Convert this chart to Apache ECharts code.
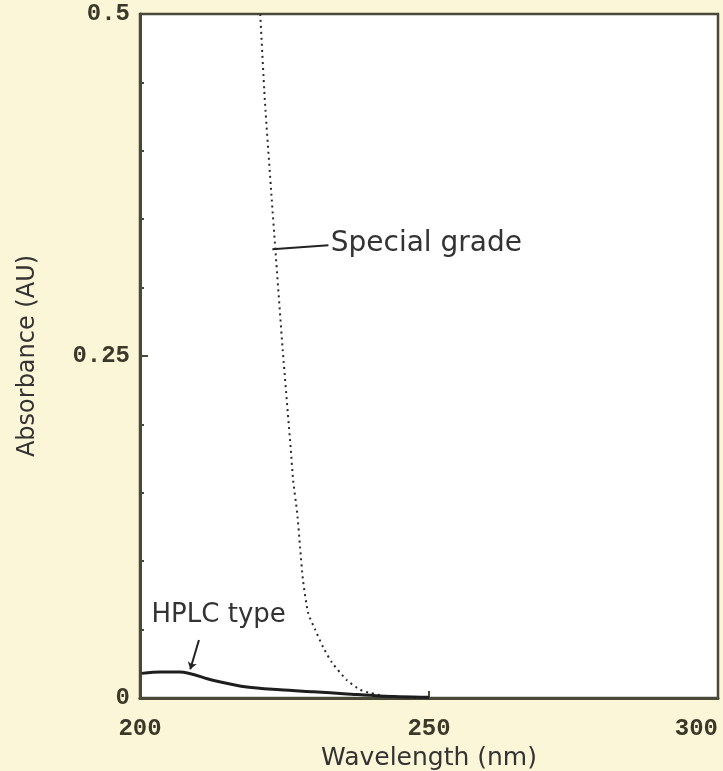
<!DOCTYPE html>
<html>
<head>
<meta charset="utf-8">
<script src="https://cdn.jsdelivr.net/npm/echarts@6/dist/echarts.min.js"></script>
<style>html,body{margin:0;padding:0;background:#fcf6d8;}#c{width:723px;height:771px;}</style>
</head>
<body>
<div id="c"></div>
<script>
// Wavelength (nm) and absorbance (AU)
var specialWavelength = [220.8, 221.6, 222.8, 223.4, 224.7, 226.1, 226.5, 227.2, 227.7, 228.2, 229.1, 230.3, 231.7, 233.2, 235.8, 238.1, 239.8, 242.4, 246.0, 250.0];
var specialAbsorbance = [0.500, 0.437, 0.364, 0.329, 0.254, 0.181, 0.159, 0.135, 0.110, 0.086, 0.062, 0.050, 0.037, 0.026, 0.013, 0.006, 0.0037, 0.0015, 0.0005, 0.0];
var hplcWavelength = [200.3, 203.5, 206.9, 212.6, 218.5, 224.2, 230.0, 235.8, 241.5, 250.0];
var hplcAbsorbance = [0.018, 0.019, 0.019, 0.013, 0.008, 0.006, 0.0045, 0.003, 0.0015, 0.0005];
var xTicks = [200, 250, 300];
var yTicks = [0, 0.25, 0.5];
var seriesNames = ['Special grade', 'HPLC type'];
var xAxisName = 'Wavelength (nm)';
var yAxisName = 'Absorbance (AU)';

function pairs(xs, ys) { return xs.map(function (x, i) { return [x, ys[i]]; }); }

var chart = echarts.init(document.getElementById('c'));
var textColor = '#333';
var axisColor = '#4a4838';
chart.setOption({
  backgroundColor: '#fcf6d8',
  animation: false,
  grid: { left: 140, top: 14, right: 5, bottom: 73, containLabel: false, outerBoundsMode: 'none',
    show: true, backgroundColor: '#ffffff', borderColor: axisColor, borderWidth: 2.5 },
  xAxis: {
    type: 'value', min: xTicks[0], max: xTicks[2], interval: xTicks[1] - xTicks[0],
    name: xAxisName, nameLocation: 'middle', nameGap: 40,
    nameTextStyle: { fontFamily: 'DejaVu Sans', fontSize: 25, color: textColor },
    axisLine: { show: true, lineStyle: { color: axisColor, width: 3 } },
    axisTick: { show: true, inside: true, length: 7, lineStyle: { color: axisColor, width: 2 } },
    axisLabel: { margin: 19, fontFamily: 'Liberation Mono', fontWeight: 'bold', fontSize: 24, color: '#3a3828', alignMaxLabel: 'right' },
    splitLine: { show: false }
  },
  yAxis: {
    type: 'value', min: yTicks[0], max: yTicks[2], interval: yTicks[1] - yTicks[0],
    name: yAxisName, nameLocation: 'middle', nameGap: 100,
    nameTextStyle: { fontFamily: 'DejaVu Sans', fontSize: 24, color: textColor },
    axisLine: { show: true, lineStyle: { color: axisColor, width: 3 } },
    axisTick: { show: true, inside: true, length: 8, lineStyle: { color: axisColor, width: 2 } },
    minorTick: { show: true, splitNumber: 5, length: 4, lineStyle: { color: axisColor, width: 2 } },
    axisLabel: { margin: 10, fontFamily: 'Liberation Mono', fontWeight: 'bold', fontSize: 24, color: '#3a3828',
      formatter: function (v) { return String(v); } },
    splitLine: { show: false }
  },
  series: [
    {
      name: seriesNames[0], type: 'line', data: pairs(specialWavelength, specialAbsorbance),
      showSymbol: false, smooth: 0.2, clip: true,
      lineStyle: { color: '#2a2a2a', width: 2, type: [2, 4] },
      markLine: {
        silent: true, symbol: ['none', 'none'],
        lineStyle: { color: '#222', width: 2, type: 'solid' },
        label: { show: false },
        data: [[{ coord: [222.9, 0.328] }, { coord: [232.6, 0.331] }]]
      },
      markPoint: {
        silent: true, symbol: 'circle', symbolSize: 0,
        data: [{ coord: [233.0, 0.332], value: seriesNames[0] }],
        label: { show: true, position: 'right', distance: 0, formatter: seriesNames[0], fontFamily: 'DejaVu Sans', fontSize: 28, color: textColor }
      }
    },
    {
      name: seriesNames[1], type: 'line', data: pairs(hplcWavelength, hplcAbsorbance),
      showSymbol: false, smooth: 0.3,
      lineStyle: { color: '#1e1e1e', width: 3 },
      markLine: {
        silent: true, symbol: ['none', 'arrow'], symbolSize: 7,
        lineStyle: { color: '#222', width: 2, type: 'solid' },
        label: { show: false },
        data: [[{ coord: [210.2, 0.0424] }, { coord: [208.7, 0.021] }]]
      },
      markPoint: {
        silent: true, symbol: 'circle', symbolSize: 0,
        data: [{ coord: [202.0, 0.0607], value: seriesNames[1] }],
        label: { show: true, position: 'right', distance: 0, formatter: seriesNames[1], fontFamily: 'DejaVu Sans', fontSize: 26, color: textColor }
      }
    }
  ]
});
</script>
</body>
</html>
